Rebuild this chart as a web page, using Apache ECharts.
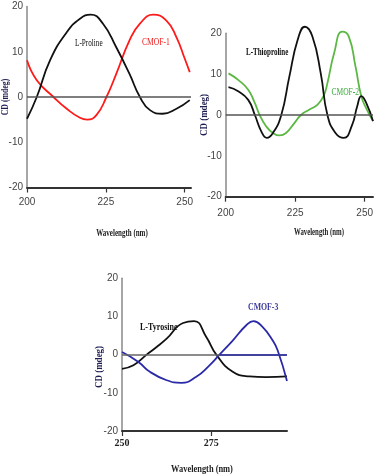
<!DOCTYPE html>
<html><head><meta charset="utf-8">
<script src="https://cdn.jsdelivr.net/npm/echarts@6/dist/echarts.min.js"></script>
<style>html,body{margin:0;padding:0;background:#fff}#c{width:376px;height:476px}</style>
</head><body><div id="c"></div>
<script>
// Panel 1: L-Proline / CMOF-1
const prolineX = [200, 203.1, 207.3, 212.6, 216.8, 220.2, 224.1, 228.3, 232.5, 235.8, 239, 243, 247.4, 251.6];
const prolineY = [-4.8, 0, 8.1, 14.3, 17.3, 18.2, 16.2, 11, 5.1, 0, -2.9, -3.7, -2.6, -0.7];
const cmof1X = [200, 203.1, 208.4, 212.6, 216.8, 219.1, 222, 225.2, 228.3, 232.5, 235.8, 240, 244.2, 247.4, 250, 251.6];
const cmof1Y = [8.1, 3.7, 0, -2.6, -4.6, -5, -4, 0, 5.1, 12.5, 16.2, 18.2, 16.9, 13.2, 8.5, 5.5];
// Panel 2: L-Thioproline / CMOF-2
const thioX = [201, 204.5, 208.1, 210.5, 212.8, 214.8, 217, 220, 222.9, 225.9, 228.5, 231.2, 234.2, 236.6, 239.5, 242.5, 245.5, 247.3, 248.8, 250.6, 253];
const thioY = [6.8, 5.8, 3.7, 0, -4, -5.6, -4.4, 0, 9.4, 18.4, 21.6, 19.2, 10.2, 0, -4.4, -5.6, -2.4, 2.1, 4.6, 2.9, -1.5];
const cmof2X = [201, 204.5, 208.1, 210.5, 212.2, 214.6, 217, 219.4, 221.7, 224.7, 227.1, 230, 233, 235.2, 236.6, 239, 241.9, 244.3, 246.7, 248.8, 250.8, 253];
const cmof2Y = [10.2, 8.6, 6.2, 2.9, 0, -2.8, -4.4, -5, -4.4, -2, 0, 1.3, 2.5, 4.6, 7.8, 15.1, 20.4, 19.2, 11.9, 4.6, 1.3, -1.5];
// Panel 3: L-Tyrosine / CMOF-3
const tyroX = [250, 253.2, 256.9, 259.7, 262.5, 267.1, 270.2, 273.6, 276.4, 281, 285.7, 290.3, 296.2];
const tyroY = [-3.7, -2.8, 0, 2, 4.2, 8.3, 8.8, 4.6, 0, -4.5, -5.7, -5.9, -5.7];
const cmof3X = [250, 254.6, 257.8, 262.5, 266.6, 270.8, 274.5, 277.3, 281, 284.8, 286.8, 289.4, 292.2, 293.6, 296.2];
const cmof3Y = [0.7, -1.9, -4.5, -6.7, -7.4, -5.8, -2.8, 0, 3.7, 7.7, 8.8, 7.2, 3.7, 1.1, -6.9];
const cmof3ZeroFrom = 277.3;
const cmof3ZeroTo = 296.2;

const zip = (a, b) => a.map((v, i) => [v, b[i]]);

const tickFont = {fontFamily: '"Liberation Sans Narrow", "Liberation Sans", sans-serif', fontSize: 10, color: '#444'};

function xAx(gi, min, max, labelMargin, bold) {
  const lab = bold ? {fontFamily: '"Liberation Serif", serif', fontWeight: 'bold', fontSize: 10, color: '#222'} : Object.assign({}, tickFont);
  lab.margin = labelMargin;
  lab.showMaxLabel = false;
  lab.showMinLabel = true;
  return {
    type: 'value', gridIndex: gi, min: min, max: max, interval: 25,
    axisLine: {show: true, onZero: false, lineStyle: {color: '#333', width: 2}},
    axisTick: {show: true, length: 5, lineStyle: {color: '#333', width: 1.2}},
    splitLine: {show: false},
    axisLabel: lab
  };
}
function yAx(gi) {
  return {
    type: 'value', gridIndex: gi, min: -20, max: 20, interval: 10,
    axisLine: {show: true, onZero: false, lineStyle: {color: '#888', width: 1.5}},
    axisTick: {show: false},
    splitLine: {show: false},
    axisLabel: Object.assign({margin: 4}, tickFont)
  };
}
const zeroLine = (color) => ({silent: true, symbol: 'none', label: {show: false},
  lineStyle: {color: color, width: 1.5, type: 'solid'}, data: [{yAxis: 0}]});

function lineSeries(name, gi, xs, ys, color, extra) {
  return Object.assign({
    name: name, type: 'line', xAxisIndex: gi, yAxisIndex: gi,
    data: zip(xs, ys), smooth: 0.5, symbol: 'none', clip: false,
    lineStyle: {color: color, width: 1.8}, itemStyle: {color: color}
  }, extra || {});
}

function txt(text, x, y, opts) {
  return {
    type: 'text', x: x, y: y, rotation: opts.rot || 0, scaleX: opts.sx || 1, z: 100,
    style: {text: text, fontFamily: '"Liberation Serif", serif', fontWeight: opts.bold ? 'bold' : 'normal',
      fontSize: opts.size || 10, fill: opts.color || '#111', align: opts.align || 'left', verticalAlign: 'middle'}
  };
}

const chart = echarts.init(document.getElementById('c'), null, {renderer: 'canvas'});
chart.setOption({
  animation: false,
  backgroundColor: '#fff',
  grid: [
    {left: 27, top: 6.5, width: 164, height: 181},
    {left: 225.7, top: 33.3, width: 149.3, height: 163.4},
    {left: 122, top: 278.3, width: 165, height: 152.7}
  ],
  xAxis: [xAx(0, 200, 252, 10, false), xAx(1, 200, 253, 12, false), xAx(2, 250, 296.2, 7, true)],
  yAxis: [yAx(0), yAx(1), yAx(2)],
  series: [
    lineSeries('L-Proline', 0, prolineX, prolineY, '#111', {markLine: zeroLine('#555'), z: 3}),
    lineSeries('CMOF-1', 0, cmof1X, cmof1Y, '#ff1a1a', {z: 2}),
    lineSeries('L-Thioproline', 1, thioX, thioY, '#111', {markLine: zeroLine('#555'), z: 3}),
    lineSeries('CMOF-2', 1, cmof2X, cmof2Y, '#5cb844', {z: 2}),
    lineSeries('L-Tyrosine', 2, tyroX, tyroY, '#111', {markLine: zeroLine('#666'), z: 2}),
    lineSeries('CMOF-3', 2, cmof3X, cmof3Y, '#2a2aa8', {z: 3,
      markLine: {silent: true, symbol: 'none', label: {show: false},
        lineStyle: {color: '#2a2aa8', width: 1.5, type: 'solid'},
        data: [[{coord: [cmof3ZeroFrom, 0]}, {coord: [cmof3ZeroTo, 0]}]]}})
  ],
  graphic: [
    txt('CD (mdeg)', 5, 97, {rot: Math.PI / 2, sx: 0.78, bold: true, color: '#1e1e52', align: 'center'}),
    txt('CD (mdeg)', 204, 115, {rot: Math.PI / 2, sx: 0.9, bold: true, color: '#1e1e52', align: 'center'}),
    txt('CD (mdeg)', 99, 367, {rot: Math.PI / 2, sx: 0.9, bold: true, color: '#1e1e52', align: 'center'}),
    txt('Wavelength (nm)', 122, 233, {sx: 0.7, bold: true, color: '#222', align: 'center'}),
    txt('Wavelength (nm)', 319, 232, {sx: 0.68, bold: true, color: '#222', align: 'center'}),
    txt('Wavelength (nm)', 202, 469, {sx: 0.84, bold: true, color: '#222', align: 'center'}),
    txt('L-Proline', 75, 43, {sx: 0.72, color: '#111'}),
    txt('CMOF-1', 142, 42, {sx: 0.76, color: '#ee2020'}),
    txt('L-Thioproline', 246, 52, {sx: 0.7, bold: true, color: '#111'}),
    txt('CMOF-2', 331.5, 92, {sx: 0.75, color: '#3aaa3a'}),
    txt('L-Tyrosine', 140, 327, {sx: 0.8, bold: true, color: '#111'}),
    txt('CMOF-3', 248, 307, {sx: 0.78, bold: true, color: '#3d3d9c'})
  ]
});
</script></body></html>
